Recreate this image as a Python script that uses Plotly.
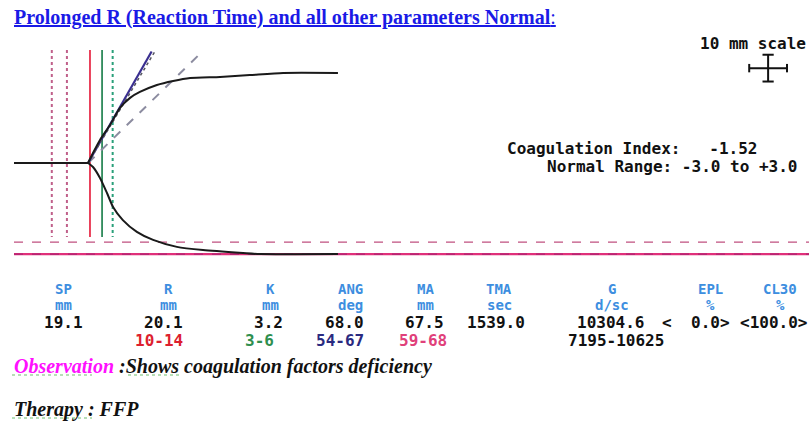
import plotly.graph_objects as go
import math

# ---------------- data ----------------
# TEG trace, time axis in mm of chart paper, amplitude in mm (half width above / below baseline)
t_upper = [0.0, 19.6, 21.0, 22.75, 25.4, 28.0, 30.7, 33.3, 37.8, 42.1, 46.6, 54.5, 62.4, 71.2, 85.7]
a_upper = [0.0, 0.0, 4.0, 8.6, 14.2, 20.5, 24.3, 26.5, 29.1, 30.6, 31.7, 32.1, 32.8, 33.6, 33.6]
t_lower = [0.0, 19.6, 20.9, 22.75, 24.6, 26.2, 28.8, 32.5, 36.8, 43.1, 50.0, 60.6, 65.1, 85.7]
a_lower = [0.0, 0.0, 1.5, 5.6, 11.2, 16.4, 21.3, 25.7, 28.7, 31.3, 32.5, 33.6, 34.0, 34.0]

split_mm = 19.6          # where the trace splits (read)
SP = 19.1
R = 20.1
K = 3.2
ANG = 68.0
MA = 67.5
TMA = 1539.0
G = 10304.6
EPL = 0.0
CL30 = 100.0
R_range = [10, 14]
K_range = [3, 6]
ANG_range = [54, 67]
MA_range = [59, 68]
G_range = [7195, 10625]
CI = -1.52
CI_range = [-3.0, 3.0]
scale_mm = 10

headers = ["SP", "R", "K", "ANG", "MA", "TMA", "G", "EPL", "CL30"]
units = ["mm", "mm", "mm", "deg", "mm", "sec", "d/sc", "%", "%"]
values = ["19.1", "20.1", "3.2", "68.0", "67.5", "1539.0", "10304.6", "", ""]
ranges = ["", "10-14", "3-6", "54-67", "59-68", "", "7195-10625", "", ""]

# ---------------- layout constants ----------------
W, H = 809, 423
X_PER_MM, Y_PER_MM = 3.78, 2.68
X0_PX, BASE_PX = 14, 163
x_rng = [-X0_PX / X_PER_MM, (W - X0_PX) / X_PER_MM]
y_rng = [(BASE_PX - H) / Y_PER_MM, BASE_PX / Y_PER_MM]
V_TOP, V_BOT = 42.2, -27.6
ANG_TOP = 41.6

def px(x):
    return x / W

def py(y):
    return 1 - y / H

fig = go.Figure()

# vertical reference lines
def vline(x, color, dash, width=1.6):
    fig.add_trace(go.Scatter(x=[x, x], y=[V_TOP, V_BOT], mode="lines",
                             line=dict(color=color, dash=dash, width=width),
                             hoverinfo="skip", showlegend=False))

vline(R_range[0], "#c0608a", "dot", 2)
vline(R_range[1], "#c0608a", "dot", 2)
vline(R, "#e8304c", "solid", 1.8)
vline(R + K, "#2e8a5a", "solid", 1.8)
vline(R + K_range[1], "#2aa07a", "dot", 2)

# MA normal range horizontal lines
fig.add_trace(go.Scatter(x=[0, x_rng[1]], y=[-MA_range[0] / 2] * 2, mode="lines",
                         line=dict(color="#c05080", dash="dash", width=1.3),
                         hoverinfo="skip", showlegend=False))
fig.add_trace(go.Scatter(x=[0, x_rng[1]], y=[-MA_range[1] / 2] * 2, mode="lines",
                         line=dict(color="#e0307a", width=2.2),
                         hoverinfo="skip", showlegend=False))
fig.add_trace(go.Scatter(x=[0, x_rng[1]], y=[-MA_range[1] / 2] * 2, mode="lines",
                         line=dict(color="#a02070", dash="dash", width=1),
                         hoverinfo="skip", showlegend=False))

# angle lines
def angle_line(a, color, dash, width):
    s = math.tan(math.radians(a))
    fig.add_trace(go.Scatter(x=[split_mm, split_mm + ANG_TOP / s], y=[0, ANG_TOP], mode="lines",
                             line=dict(color=color, dash=dash, width=width),
                             hoverinfo="skip", showlegend=False))

angle_line(ANG_range[0], "#8c8ca0", "dash", 2)
angle_line(ANG, "#3a2f90", "solid", 2.2)
angle_line(ANG_range[1], "#555560", "dot", 1.5)

# TEG trace: straight baseline up to the split, then the two smooth branches
fig.add_trace(go.Scatter(x=t_upper[:2], y=a_upper[:2], mode="lines", line=dict(color="#1a1a1a", width=2),
                         hoverinfo="skip", showlegend=False))
fig.add_trace(go.Scatter(x=t_upper[1:], y=a_upper[1:], mode="lines",
                         line=dict(color="#1a1a1a", width=2, shape="spline", smoothing=0.6),
                         hoverinfo="skip", showlegend=False))
fig.add_trace(go.Scatter(x=t_lower[1:], y=[-v for v in a_lower[1:]], mode="lines",
                         line=dict(color="#1a1a1a", width=2, shape="spline", smoothing=0.6),
                         hoverinfo="skip", showlegend=False))

# 10 mm scale cross
cx, cy = 199.5, 35.4
fig.add_trace(go.Scatter(x=[cx - scale_mm / 2, cx + scale_mm / 2], y=[cy, cy], mode="lines+markers",
                         line=dict(color="#111", width=2),
                         marker=dict(symbol="line-ns", size=6, line=dict(color="#111", width=2)),
                         hoverinfo="skip", showlegend=False))
fig.add_trace(go.Scatter(x=[cx, cx], y=[cy - scale_mm / 2, cy + scale_mm / 2], mode="lines+markers",
                         line=dict(color="#111", width=2),
                         marker=dict(symbol="line-ew", size=8, line=dict(color="#111", width=2)),
                         hoverinfo="skip", showlegend=False))

ann = []
MONO = "DejaVu Sans Mono"
SERIF = "Liberation Serif"

def text(x, y, s, size, color, family=MONO, xanchor="center"):
    ann.append(dict(x=px(x), y=py(y), xref="paper", yref="paper", text=s, showarrow=False,
                    xanchor=xanchor, yanchor="middle", font=dict(family=family, size=size, color=color)))

# title
text(12, 18, "<u><b>Prolonged R (Reaction Time) and all other parameters Normal</b>:</u>", 20, "#1a1ae6", SERIF, "left")

# scale label
text(698, 43, "<b>10 mm scale</b>", 16, "#111", MONO, "left")

# coagulation index
text(505, 148, "<b>Coagulation Index:   %.2f</b>" % CI, 16, "#111", MONO, "left")
text(545, 166, "<b>Normal Range: %.1f to +%.1f</b>" % (CI_range[0], CI_range[1]), 16, "#111", MONO, "left")

# parameter table
col_hdr = [63, 168, 270, 350, 425, 499, 612, 710, 780]
col_val = [63, 163, 268, 344, 424, 496, 610, 710, 773]
col_rng = [63, 159, 259, 340, 423, 496, 616, 710, 773]
rng_col = ["#111", "#dd1f2f", "#2f8f4f", "#2a2a80", "#e0407a", "#111", "#111", "#111", "#111"]
for i in range(len(headers)):
    text(col_hdr[i], 289, "<b>%s</b>" % headers[i], 14, "#3d8ee0")
    text(col_hdr[i], 305, "<b>%s</b>" % units[i], 14, "#3d8ee0")
    if values[i]:
        text(col_val[i], 322, "<b>%s</b>" % values[i], 16, "#111")
    if ranges[i]:
        text(col_rng[i], 340, "<b>%s</b>" % ranges[i], 16, rng_col[i])
text(667, 322, "<b>&lt;</b>", 16, "#111")
text(710, 322, "<b>%.1f&gt;</b>" % EPL, 16, "#111")
text(773, 322, "<b>&lt;%.1f&gt;</b>" % CL30, 16, "#111")

# observation / therapy
text(12, 366, "<b><i><span style='color:#ff10ff'>Observation</span> :Shows coagulation factors deficiency</i></b>", 20, "#111", SERIF, "left")
text(12, 409, "<b><i>Therapy : FFP</i></b>", 20, "#111", SERIF, "left")

# spell-check style underlines
shapes = []
for x0, x1, y in [(12, 92, 375), (128, 180, 375), (12, 92, 418)]:
    shapes.append(dict(type="line", xref="paper", yref="paper", x0=px(x0), x1=px(x1), y0=py(y), y1=py(y),
                       line=dict(color="#6fbf6f", width=1.2, dash="dot")))

fig.update_layout(
    width=W, height=H, margin=dict(l=0, r=0, t=0, b=0),
    paper_bgcolor="white", plot_bgcolor="white",
    xaxis=dict(range=x_rng, visible=False, fixedrange=True),
    yaxis=dict(range=y_rng, visible=False, fixedrange=True),
    annotations=ann, shapes=shapes, showlegend=False,
)
fig.write_html("out.html", config={"displayModeBar": False},
               post_script="document.body.style.margin='0';document.body.style.overflow='hidden';")
